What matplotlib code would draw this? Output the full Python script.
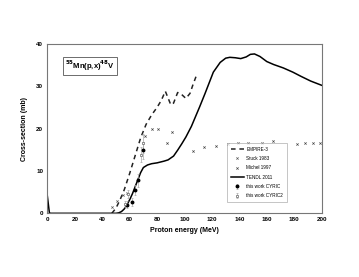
import matplotlib
matplotlib.use("Agg")
import matplotlib.pyplot as plt

plt.rcParams['font.family'] = ['Liberation Sans', 'DejaVu Sans']

# TENDL 2011 (solid line)
tendl_e = [0, 1.5, 2, 50, 52, 54, 56, 58, 60, 62, 65, 68, 70, 73, 76, 80, 85, 88,
           92, 95, 98, 101, 105, 111, 115, 121, 126, 130, 133, 137, 141, 145,
           148, 151, 155, 160, 165, 172, 179, 185, 192, 200]
tendl_xs = [4.0, 0, 0, 0, 0.1, 0.4, 1.0, 2.0, 3.2, 4.6, 7.1, 9.6, 10.8, 11.4, 11.7,
            11.9, 12.3, 12.6, 13.5, 14.9, 16.4, 18.0, 20.5, 25.1, 28.3, 33.3,
            35.6, 36.6, 36.8, 36.7, 36.5, 36.9, 37.5, 37.6, 37.0, 35.8, 35.1,
            34.3, 33.3, 32.3, 31.2, 30.2]

# EMPIRE-3 (dashed line)
empire_e = [47, 50, 53, 56, 60, 64, 68, 72, 76, 80, 83, 86, 88, 90, 92, 95,
            98, 101, 104, 106, 109]
empire_xs = [0, 1.2, 3.2, 5.5, 9.4, 13.6, 17.8, 21.0, 23.2, 25.0, 26.6, 28.8,
             27.2, 25.6, 26.0, 28.5, 28.0, 27.1, 28.3, 30.2, 32.8]

# Stuck 1983
stuck_e = [46.9, 51.0, 55.3, 57.8]
stuck_xs = [1.6, 3.0, 4.3, 4.9]

# Michel 1997
michel_e = [71.2, 76.0, 80.9, 87.0, 91.0, 106.0, 114.2, 123.0, 131.5, 139.3,
            146.6, 156.3, 164.4, 181.9, 188.0, 193.6, 199.0]
michel_xs = [18.2, 19.8, 20.0, 16.6, 19.1, 14.7, 15.7, 15.8, 16.4, 16.6,
             16.6, 16.5, 17.1, 16.3, 16.6, 16.6, 16.6]

# this work CYRIC
cyric_e = [57.8, 61.5, 63.9, 66.3, 69.5]
cyric_xs = [2.0, 2.7, 5.5, 7.8, 14.9]
cyric_err = [0.8, 0.9, 1.2, 1.5, 2.0]

# this work CYRIC2
cyric2_e = [56.5, 59.0, 68.5, 70.0]
cyric2_xs = [2.2, 4.5, 13.8, 16.5]
cyric2_err = [0.7, 1.0, 1.8, 2.2]

fig = plt.figure(figsize=(3.59, 2.77), dpi=100)
ax = fig.add_axes([0.132, 0.23, 0.764, 0.612])

ax.plot(empire_e, empire_xs, color='#222222', lw=1.1, ls=(0, (3, 2.5)), label='EMPIRE-3')
ax.plot(stuck_e, stuck_xs, ls='none', marker='x', ms=1.6, mew=0.5, color='#555555', label='Stuck 1983')
ax.plot(michel_e, michel_xs, ls='none', marker='x', ms=1.6, mew=0.5, color='#444444', label='Michel 1997')
ax.plot(tendl_e, tendl_xs, color='black', lw=1.1, label='TENDL 2011')
ax.errorbar(cyric_e, cyric_xs, yerr=cyric_err, ls='none', marker='o', ms=1.8,
            color='black', ecolor='#aaaaaa', elinewidth=0.5, capsize=1, capthick=0.5,
            label='this work CYRIC')
ax.errorbar(cyric2_e, cyric2_xs, yerr=cyric2_err, ls='none', marker='s', ms=2.0,
            mfc='white', mec='#666666', mew=0.5, ecolor='#aaaaaa', elinewidth=0.5,
            capsize=1, capthick=0.5, label='this work CYRIC2')

ax.set_xlim(0, 200)
ax.set_ylim(0, 40)
ax.set_xticks(range(0, 201, 20))
ax.set_yticks(range(0, 41, 10))
ax.tick_params(length=0, labelsize=4.5, pad=3)
for lab in ax.get_xticklabels() + ax.get_yticklabels():
    lab.set_fontweight('bold')
for sp in ax.spines.values():
    sp.set_color('#777777')
    sp.set_linewidth(0.8)

ax.set_xlabel('Proton energy (MeV)', fontsize=5, fontweight='bold', labelpad=3)
ax.set_ylabel('Cross-section (mb)', fontsize=5, fontweight='bold', labelpad=6)

ax.text(13, 34.7, r'$^{\mathbf{55}}$Mn(p,x)$^{\mathbf{48}}$V', fontsize=5.5, fontweight='bold',
        va='center', ha='left',
        bbox=dict(boxstyle='square,pad=0.25', fc='white', ec='#555555', lw=0.6))

leg = ax.legend(loc='upper left', bbox_to_anchor=(0.655, 0.415), fontsize=3.3,
                frameon=True, fancybox=False, borderpad=0.8, labelspacing=0.95,
                handlelength=2.8, handletextpad=0.6, borderaxespad=0)
leg.get_frame().set_edgecolor('#999999')
leg.get_frame().set_linewidth(0.5)

fig.savefig('out.png', dpi=100)
